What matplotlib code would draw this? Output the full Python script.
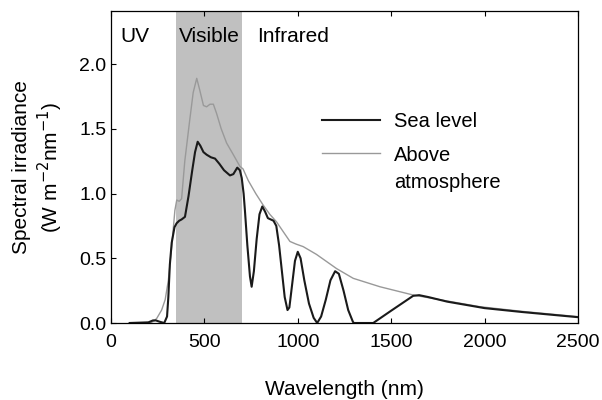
import numpy as np
import matplotlib.pyplot as plt
from matplotlib.legend_handler import HandlerLine2D

plt.rcParams['font.family'] = ['Liberation Sans', 'DejaVu Sans']

# wavelength (nm) and irradiance (W m-2 nm-1)
wl_sea = [100, 200, 225, 240, 260, 285, 300, 307, 315, 325, 340, 351, 365, 378, 396,
          415, 435, 450, 464, 478, 495, 512, 535, 557, 580, 605, 637, 655, 676,
          690, 700, 710, 717, 730, 744, 753, 765, 780, 795, 810, 825, 840, 855,
          870, 885, 900, 915, 930, 945, 955, 970, 985, 1000, 1015, 1035, 1060,
          1085, 1104, 1125, 1150, 1175, 1200, 1220, 1245, 1270, 1295, 1300,
          1404, 1500, 1618, 1650, 1700, 1800, 1900, 2000, 2200, 2350, 2500]
sea_level = [0.0, 0.005, 0.02, 0.02, 0.01, 0.0, 0.05, 0.2, 0.45, 0.62, 0.74, 0.77, 0.79, 0.80, 0.82,
             0.98, 1.18, 1.32, 1.40, 1.37, 1.32, 1.30, 1.28, 1.27, 1.23, 1.18, 1.14, 1.15, 1.20,
             1.18, 1.12, 1.00, 0.87, 0.60, 0.36, 0.28, 0.40, 0.65, 0.84, 0.90, 0.86, 0.81, 0.80,
             0.79, 0.75, 0.60, 0.40, 0.20, 0.10, 0.12, 0.30, 0.48, 0.55, 0.50, 0.33, 0.15,
             0.04, 0.0, 0.05, 0.18, 0.33, 0.40, 0.38, 0.25, 0.10, 0.01, 0.0,
             0.0, 0.095, 0.21, 0.215, 0.20, 0.165, 0.14, 0.115, 0.085, 0.065, 0.045]

wl_top = [209, 230, 245, 271, 290, 307, 325, 342, 352, 365, 378, 395, 420, 440, 459,
          475, 495, 512, 530, 548, 565, 590, 619, 655, 690, 707, 735, 775, 815, 850,
          887, 920, 958, 990, 1029, 1100, 1208, 1297, 1440, 1618, 1800, 1975, 2200, 2500]
above_atm = [0.0, 0.015, 0.036, 0.10, 0.18, 0.33, 0.59, 0.87, 0.95, 0.94, 0.96, 1.25, 1.55, 1.78, 1.89,
             1.80, 1.68, 1.67, 1.69, 1.69, 1.62, 1.50, 1.39, 1.30, 1.21, 1.19, 1.10, 1.00, 0.91, 0.84,
             0.78, 0.71, 0.63, 0.61, 0.59, 0.53, 0.42, 0.345, 0.28, 0.216, 0.17, 0.126, 0.09, 0.049]


class TopLineHandler(HandlerLine2D):
    # put the legend line level with the first line of a two-line label
    def create_artists(self, legend, orig_handle, xdescent, ydescent,
                       width, height, fontsize, trans):
        arts = super().create_artists(legend, orig_handle, xdescent, ydescent,
                                      width, height, fontsize, trans)
        for a in arts:
            a.set_ydata(np.asarray(a.get_ydata()) + 0.8 * fontsize)
        return arts


fig = plt.figure(figsize=(6.02, 4.0), dpi=100)
ax = fig.add_axes([0.1844, 0.1925, 0.7756, 0.78])

ax.axvspan(350, 700, color='#c0c0c0', lw=0, zorder=0)
top_line, = ax.plot(wl_top, above_atm, color='#999999', lw=1.0, label='Above\natmosphere')
ax.plot(wl_sea, sea_level, color='#1a1a1a', lw=1.5, label='Sea level')

ax.set_xlim(0, 2500)
ax.set_ylim(0, 2.41)
ax.set_xticks([0, 500, 1000, 1500, 2000, 2500])
ax.set_yticks([0, 0.5, 1.0, 1.5, 2.0])
ax.set_yticklabels(['0.0', '0.5', '1.0', '1.5', '2.0'])
ax.tick_params(direction='in', length=3.5, width=0.8, labelsize=14, top=True, right=False)
ax.tick_params(axis='x', pad=8)
for s in ax.spines.values():
    s.set_linewidth(0.9)

ax.text(48, 2.21, 'UV', fontsize=15, va='center', ha='left')
ax.text(524, 2.21, 'Visible', fontsize=15, va='center', ha='center')
ax.text(780, 2.21, 'Infrared', fontsize=15, va='center', ha='left')

h, l = ax.get_legend_handles_labels()
leg = ax.legend(h[::-1], l[::-1], loc='upper left', bbox_to_anchor=(0.43, 0.71),
                frameon=False, fontsize=14.5, handlelength=2.9, handletextpad=0.7,
                labelspacing=0.75, borderpad=0,
                handler_map={top_line: TopLineHandler()})
for t in leg.get_texts():
    t.set_linespacing(1.55)

ax.set_xlabel('Wavelength (nm)', fontsize=15, labelpad=21)
ax.set_ylabel('Spectral irradiance\n(W m$^{-2}$nm$^{-1}$)', fontsize=15, labelpad=10)

fig.savefig('out.png', dpi=100)
